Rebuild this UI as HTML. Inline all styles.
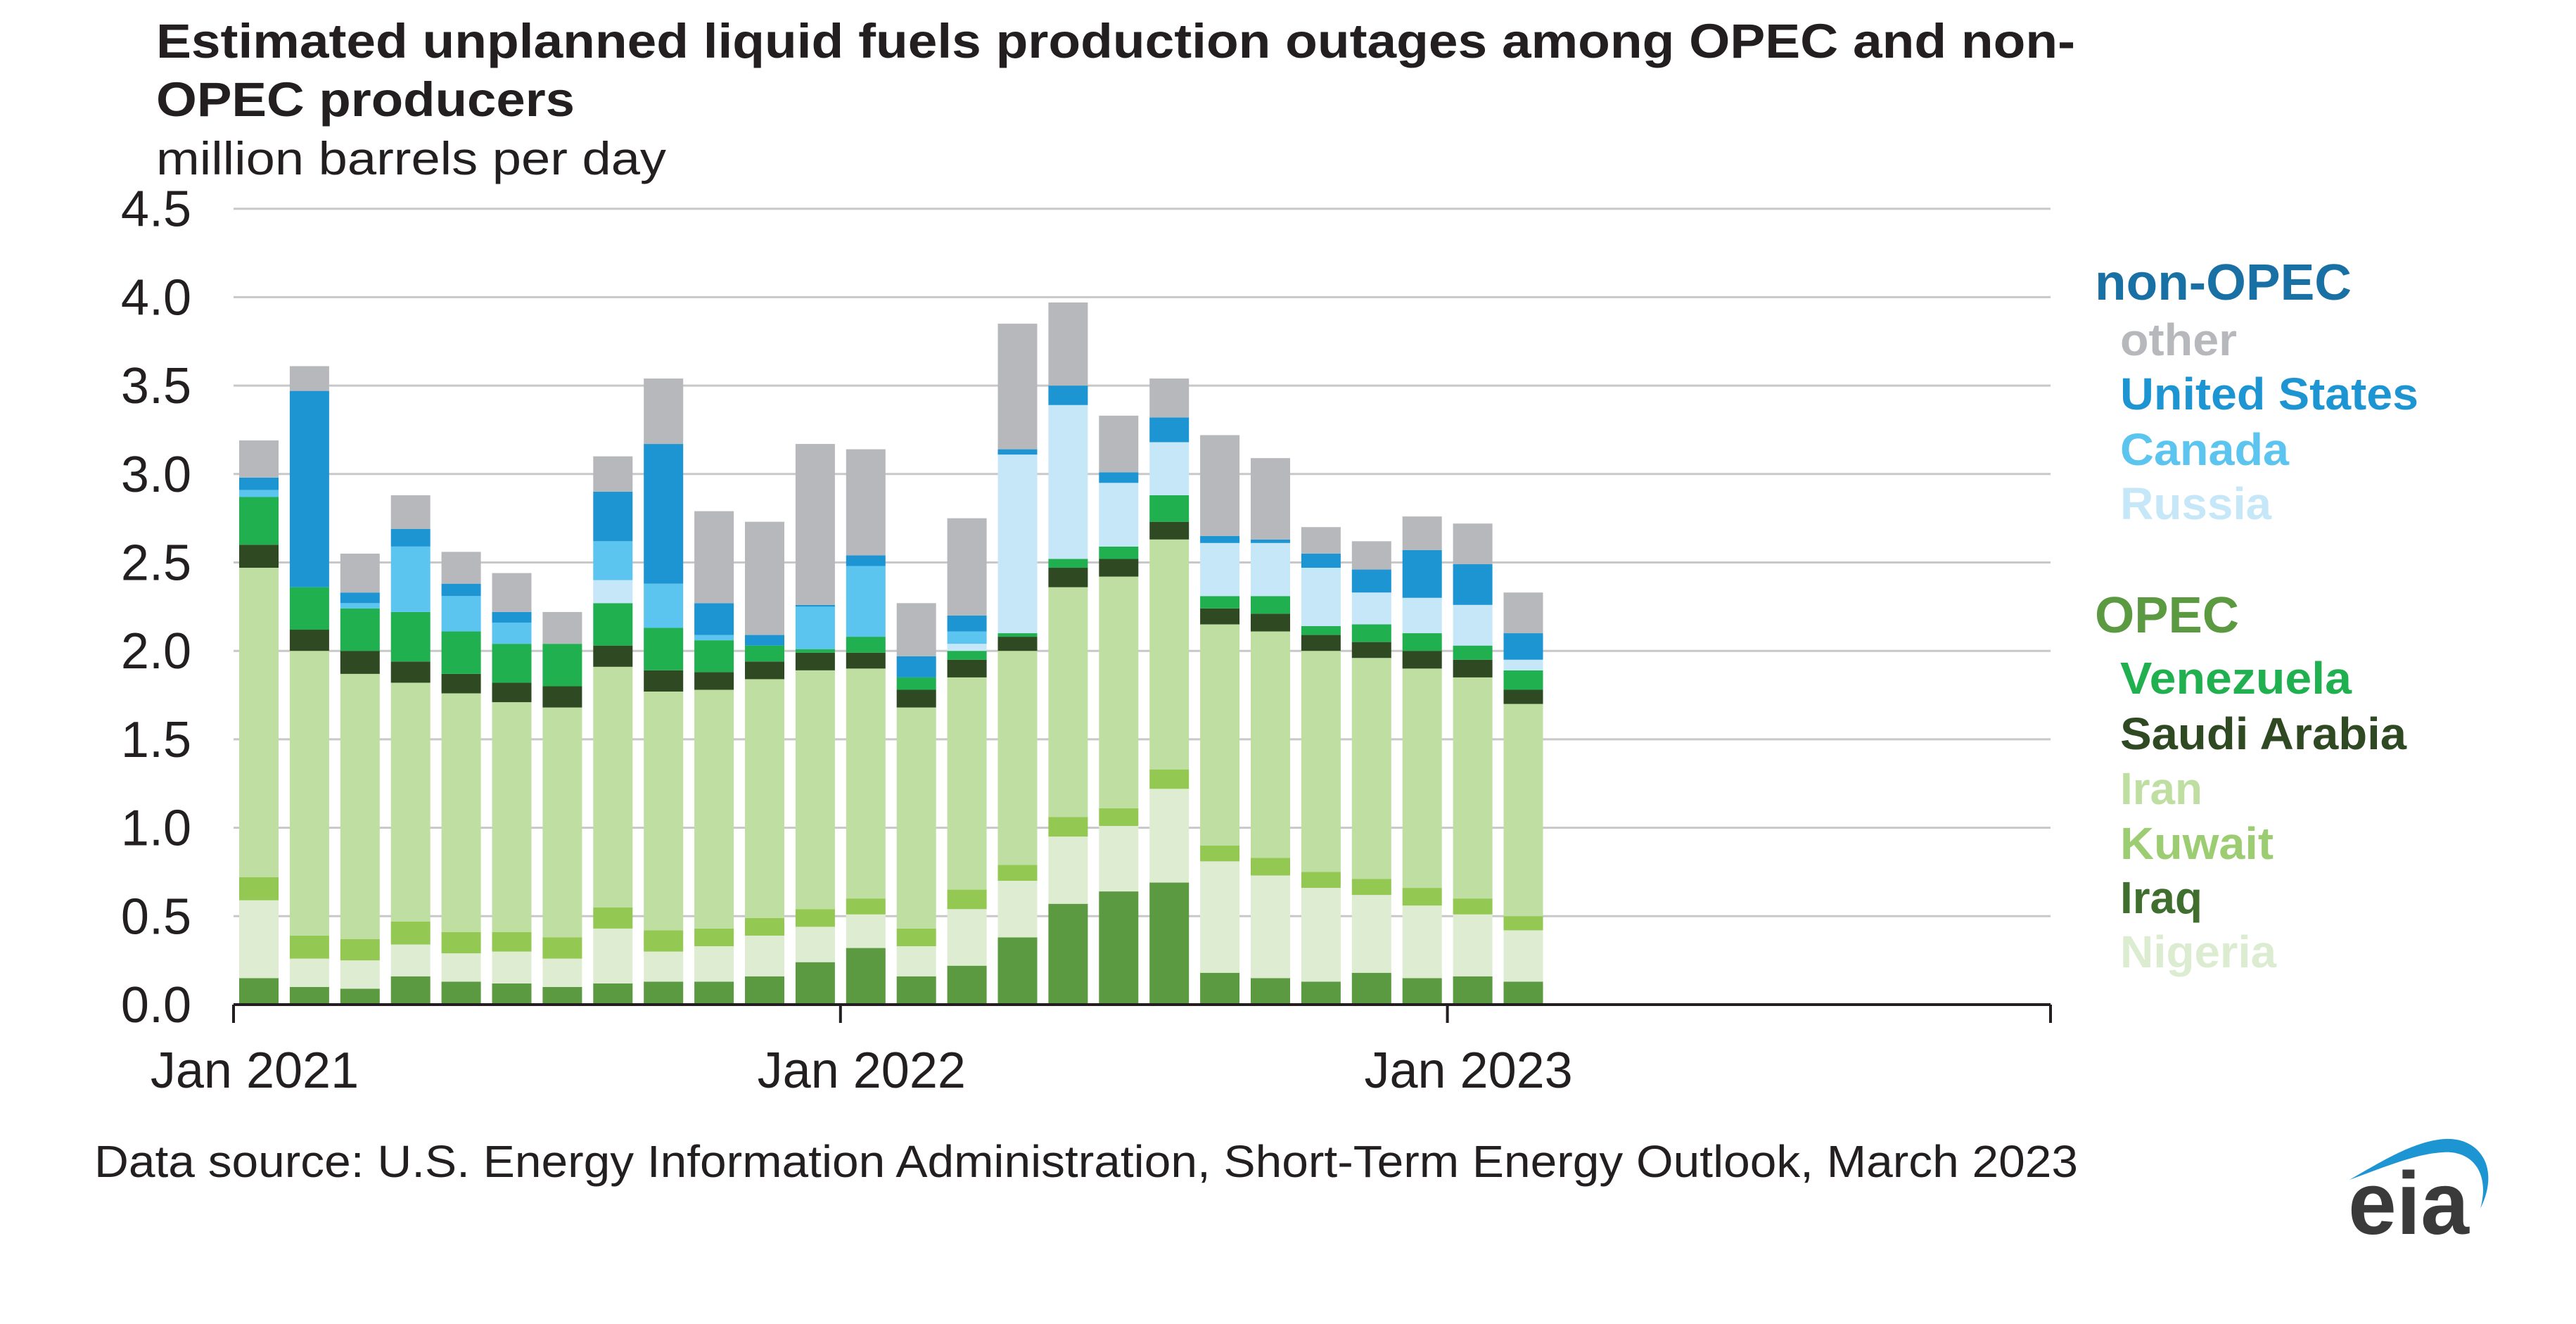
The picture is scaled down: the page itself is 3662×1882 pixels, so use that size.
<!DOCTYPE html>
<html><head><meta charset="utf-8">
<style>
html,body{margin:0;padding:0;background:#fff;}
svg{display:block;font-family:"Liberation Sans",Arial,sans-serif;}
</style></head>
<body>
<svg id="chart" width="3662" height="1882" viewBox="0 0 3662 1882" xmlns="http://www.w3.org/2000/svg">
<text x="222" y="82" font-size="69" font-weight="bold" fill="#231f20" textLength="2728" lengthAdjust="spacingAndGlyphs">Estimated unplanned liquid fuels production outages among OPEC and non-</text>
<text x="222" y="165" font-size="69" font-weight="bold" fill="#231f20" textLength="595" lengthAdjust="spacingAndGlyphs">OPEC producers</text>
<text x="222" y="248" font-size="66" fill="#231f20" textLength="725" lengthAdjust="spacingAndGlyphs">million barrels per day</text>
<g id="grid"></g>
<g id="bars"></g>
<g id="axis"></g>
<g id="legend">
<text x="2978" y="426" font-size="72" font-weight="bold" fill="#1870a4" textLength="365" lengthAdjust="spacingAndGlyphs">non-OPEC</text>
<text x="3014" y="505" font-size="64" font-weight="bold" fill="#b7b8bb" textLength="166" lengthAdjust="spacingAndGlyphs">other</text>
<text x="3014" y="582" font-size="64" font-weight="bold" fill="#1e95d3" textLength="424" lengthAdjust="spacingAndGlyphs">United States</text>
<text x="3014" y="661" font-size="64" font-weight="bold" fill="#5bc5f0" textLength="240" lengthAdjust="spacingAndGlyphs">Canada</text>
<text x="3014" y="738" font-size="64" font-weight="bold" fill="#c5e7f8" textLength="215" lengthAdjust="spacingAndGlyphs">Russia</text>
<text x="2978" y="899" font-size="72" font-weight="bold" fill="#5b9a41" textLength="205" lengthAdjust="spacingAndGlyphs">OPEC</text>
<text x="3014" y="986" font-size="64" font-weight="bold" fill="#20b04f" textLength="329" lengthAdjust="spacingAndGlyphs">Venezuela</text>
<text x="3014" y="1065" font-size="64" font-weight="bold" fill="#2f4a22" textLength="407" lengthAdjust="spacingAndGlyphs">Saudi Arabia</text>
<text x="3014" y="1143" font-size="64" font-weight="bold" fill="#bfdea2" textLength="117" lengthAdjust="spacingAndGlyphs">Iran</text>
<text x="3014" y="1221" font-size="64" font-weight="bold" fill="#9dcd72" textLength="218" lengthAdjust="spacingAndGlyphs">Kuwait</text>
<text x="3014" y="1298" font-size="64" font-weight="bold" fill="#3f6e2f" textLength="117" lengthAdjust="spacingAndGlyphs">Iraq</text>
<text x="3014" y="1375" font-size="64" font-weight="bold" fill="#dcecd0" textLength="222" lengthAdjust="spacingAndGlyphs">Nigeria</text>
</g>
<text x="134" y="1673" font-size="64" fill="#231f20" textLength="2820" lengthAdjust="spacingAndGlyphs">Data source: U.S. Energy Information Administration, Short-Term Energy Outlook, March 2023</text>
<g>
<path d="M3340,1677 C3395,1645 3435,1622 3475,1619 C3525,1616 3555,1660 3526,1718 C3540,1668 3515,1635 3473,1638 C3435,1640 3395,1657 3340,1677 Z" fill="#1e95d3"/>
<text x="3338" y="1754" font-size="126" font-weight="bold" fill="#3a3a3a" textLength="172" lengthAdjust="spacingAndGlyphs">eia</text>
</g>
</svg>
<script>
const months = ["Jan 2021","Feb 2021","Mar 2021","Apr 2021","May 2021","Jun 2021","Jul 2021","Aug 2021","Sep 2021","Oct 2021","Nov 2021","Dec 2021","Jan 2022","Feb 2022","Mar 2022","Apr 2022","May 2022","Jun 2022","Jul 2022","Aug 2022","Sep 2022","Oct 2022","Nov 2022","Dec 2022","Jan 2023","Feb 2023"];
const iraq      = [.15,.10,.09,.16,.13,.12,.10,.12,.13,.13,.16,.24,.32,.16,.22,.38,.57,.64,.69,.18,.15,.13,.18,.15,.16,.13];
const nigeria   = [.44,.16,.16,.18,.16,.18,.16,.31,.17,.20,.23,.20,.19,.17,.32,.32,.38,.37,.53,.63,.58,.53,.44,.41,.35,.29];
const kuwait    = [.13,.13,.12,.13,.12,.11,.12,.12,.12,.10,.10,.10,.09,.10,.11,.09,.11,.10,.11,.09,.10,.09,.09,.10,.09,.08];
const iran      = [1.75,1.61,1.50,1.35,1.35,1.30,1.30,1.36,1.35,1.35,1.35,1.35,1.30,1.25,1.20,1.21,1.30,1.31,1.30,1.25,1.28,1.25,1.25,1.24,1.25,1.20];
const saudi     = [.13,.12,.13,.12,.11,.11,.12,.12,.12,.10,.10,.10,.09,.10,.10,.08,.11,.10,.10,.09,.10,.09,.09,.10,.10,.08];
const venezuela = [.27,.24,.24,.28,.24,.22,.24,.24,.24,.18,.09,.02,.09,.07,.05,.02,.05,.07,.15,.07,.10,.05,.10,.10,.08,.11];
const russia    = [0,0,0,0,0,0,0,.13,0,0,0,0,0,0,.04,1.01,.87,.36,.30,.30,.30,.33,.18,.20,.23,.06];
const canada    = [.04,0,.03,.37,.20,.12,0,.22,.25,.03,0,.24,.40,0,.07,0,0,0,0,0,0,0,0,0,0,0];
const unitedStates = [.07,1.11,.06,.10,.07,.06,0,.28,.79,.18,.06,.01,.06,.12,.09,.03,.11,.06,.14,.04,.02,.08,.13,.27,.23,.15];
const other     = [.21,.14,.22,.19,.18,.22,.18,.20,.37,.52,.64,.91,.60,.30,.55,.71,.47,.32,.22,.57,.46,.15,.16,.19,.23,.23];
const yTicks = [0,0.5,1,1.5,2,2.5,3,3.5,4,4.5];
const yTickLabels = ["0.0","0.5","1.0","1.5","2.0","2.5","3.0","3.5","4.0","4.5"];
const xTickLabels = ["Jan 2021","Jan 2022","Jan 2023"];
const xTickMonthIndex = [0,12,24];

const NS="http://www.w3.org/2000/svg";
const X0=332, SLOT=71.9, BARW=56, Y0=1428, PERUNIT=251.4, XEND=2915;
const yScale = v => Y0 - v*PERUNIT;
const xScale = i => X0 + i*SLOT;
function mk(tag, attrs, parent){const e=document.createElementNS(NS,tag);for(const k in attrs)e.setAttribute(k,attrs[k]);parent.appendChild(e);return e;}

const grid=document.getElementById('grid');
yTicks.forEach((t,k)=>{
  if(t>0){
    const l=mk('line',{x1:X0,x2:XEND,y1:yScale(t),y2:yScale(t),stroke:'#c8c8c8','stroke-width':3},grid);
    
    
  }
  const tx=mk('text',{x:272,y:yScale(t)+25,'font-size':72,'text-anchor':'end',fill:'#231f20'},grid);
  tx.textContent=yTickLabels[k];
  
  
});

const series=[
 {name:'iraq',vals:iraq,color:'#5b9a41'},
 {name:'nigeria',vals:nigeria,color:'#deedd2'},
 {name:'kuwait',vals:kuwait,color:'#93c852'},
 {name:'iran',vals:iran,color:'#bfdea2'},
 {name:'saudi-arabia',vals:saudi,color:'#2f4a22'},
 {name:'venezuela',vals:venezuela,color:'#20b04f'},
 {name:'russia',vals:russia,color:'#c5e7f8'},
 {name:'canada',vals:canada,color:'#5bc5f0'},
 {name:'united-states',vals:unitedStates,color:'#1e95d3'},
 {name:'other',vals:other,color:'#b7b8bb'}
];
const bars=document.getElementById('bars');
months.forEach((m,i)=>{
  let cum=0;
  const x=xScale(i)+8;
  series.forEach(s=>{
    const v=s.vals[i];
    if(v>0){
      const r=mk('rect',{x:x,y:yScale(cum+v),width:BARW,height:v*PERUNIT,fill:s.color},bars);
      
      
    }
    cum+=v;
  });
});

const axis=document.getElementById('axis');
const al=mk('line',{x1:X0,x2:XEND,y1:Y0,y2:Y0,stroke:'#231f20','stroke-width':4},axis);


xTickMonthIndex.forEach((mi,k)=>{
  const tk=mk('line',{x1:xScale(mi),x2:xScale(mi),y1:Y0,y2:Y0+26,stroke:'#231f20','stroke-width':4},axis);
  
  
  const tx=mk('text',{x:xScale(mi)+30,y:1546,'font-size':72,'text-anchor':'middle',fill:'#231f20'},axis);
  tx.textContent=xTickLabels[k];
  
  
});
const et=mk('line',{x1:XEND,x2:XEND,y1:Y0,y2:Y0+26,stroke:'#231f20','stroke-width':4},axis);


</script>
</body></html>
